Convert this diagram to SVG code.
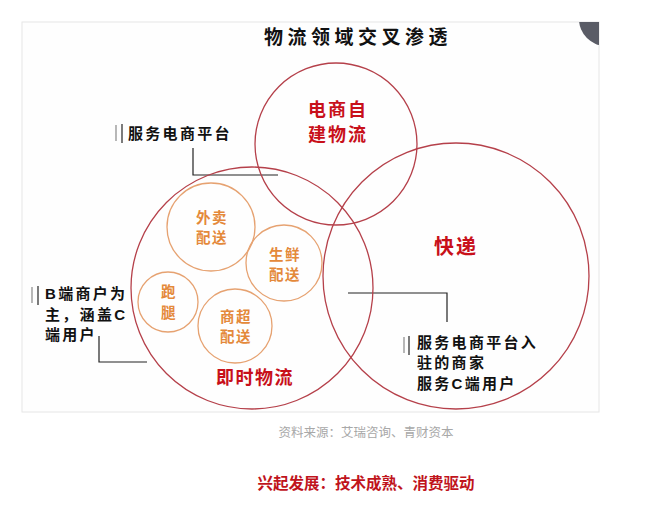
<svg xmlns="http://www.w3.org/2000/svg" width="664" height="513" viewBox="0 0 664 513">
<style>
.big{fill:none;stroke:#b5404a;stroke-width:1.3}
.sm{fill:none;stroke:#e6a271;stroke-width:1.3}
.red{font-family:"Noto Sans CJK SC",sans-serif;font-weight:700;fill:#c8101a;text-anchor:middle}
.org{font-family:"Noto Sans CJK SC",sans-serif;font-weight:700;fill:#e4893a;text-anchor:middle;font-size:14.5px;letter-spacing:1.5px}
.lab{font-family:"Liberation Sans","Noto Sans CJK SC",sans-serif;font-weight:700;fill:#111;font-size:15px;letter-spacing:2.3px}
.con{fill:none;stroke:#222;stroke-width:1.2}
.bar1{stroke:#888;stroke-width:1.2}
.bar2{stroke:#444;stroke-width:1.4}
</style>
<defs>
<clipPath id="fr"><rect x="22" y="22" width="577" height="390"/></clipPath>
</defs>
<rect x="0" y="0" width="664" height="513" fill="#fff"/>
<rect x="22" y="22" width="577" height="390" fill="#fefefe" stroke="#e6e6e6" stroke-width="1"/>
<circle cx="606" cy="19" r="27" fill="#5a5c66" clip-path="url(#fr)"/>
<text x="358" y="44" font-family="Noto Sans CJK SC,sans-serif" font-weight="700" font-size="19" letter-spacing="4.5" text-anchor="middle" fill="#111">物流领域交叉渗透</text>

<g id="connectors">
<polyline class="con" points="193,148 193,175 278,175"/>
<polyline class="con" points="99,336 99,362 147,362"/>
<polyline class="con" points="348,293 447,293 447,322"/>
</g>

<g id="ecom">
<circle class="big" cx="336" cy="144" r="81"/>
<text class="red" x="338" y="116" font-size="18" letter-spacing="2">电商自</text>
<text class="red" x="338" y="141" font-size="18" letter-spacing="2">建物流</text>
</g>
<g id="express">
<circle class="big" cx="456" cy="276" r="133"/>
<text class="red" x="456" y="254" font-size="20" letter-spacing="2">快递</text>
</g>
<g id="instant">
<circle class="big" cx="252" cy="288" r="121"/>
<text class="red" x="255" y="384" font-size="18" letter-spacing="1.5">即时物流</text>
</g>
<g id="takeout">
<circle class="sm" cx="211" cy="227" r="44"/>
<text class="org" x="212" y="223">外卖</text>
<text class="org" x="212" y="243">配送</text>
</g>
<g id="fresh">
<circle class="sm" cx="284" cy="263" r="38"/>
<text class="org" x="285" y="260">生鲜</text>
<text class="org" x="285" y="280">配送</text>
</g>
<g id="errand">
<circle class="sm" cx="168" cy="302" r="30"/>
<text class="org" x="169" y="297">跑</text>
<text class="org" x="169" y="318">腿</text>
</g>
<g id="market">
<circle class="sm" cx="235" cy="326" r="37"/>
<text class="org" x="236" y="322">商超</text>
<text class="org" x="236" y="342">配送</text>
</g>

<g id="label-platform">
<line class="bar1" x1="116" y1="125" x2="116" y2="141"/>
<line class="bar2" x1="122" y1="124" x2="122" y2="143"/>
<text class="lab" x="128" y="139">服务电商平台</text>
</g>
<g id="label-b">
<line class="bar1" x1="32" y1="287" x2="32" y2="303"/>
<line class="bar2" x1="38" y1="286" x2="38" y2="305"/>
<text class="lab" x="45" y="299">B端商户为</text>
<text class="lab" x="45" y="320">主，涵盖C</text>
<text class="lab" x="45" y="340">端用户</text>
</g>
<g id="label-merchant">
<line class="bar1" x1="404" y1="337" x2="404" y2="353"/>
<line class="bar2" x1="409" y1="336" x2="409" y2="355"/>
<text class="lab" x="417" y="348">服务电商平台入</text>
<text class="lab" x="417" y="368">驻的商家</text>
<text class="lab" x="417" y="389">服务C端用户</text>
</g>

<text x="366" y="437" font-family="Noto Sans CJK SC,sans-serif" font-size="12.5" fill="#a8a8a8" text-anchor="middle">资料来源：艾瑞咨询、青财资本</text>
<text x="366" y="489" font-family="Noto Sans CJK SC,sans-serif" font-weight="700" font-size="15.5" fill="#c0141c" text-anchor="middle">兴起发展：技术成熟、消费驱动</text>
</svg>
